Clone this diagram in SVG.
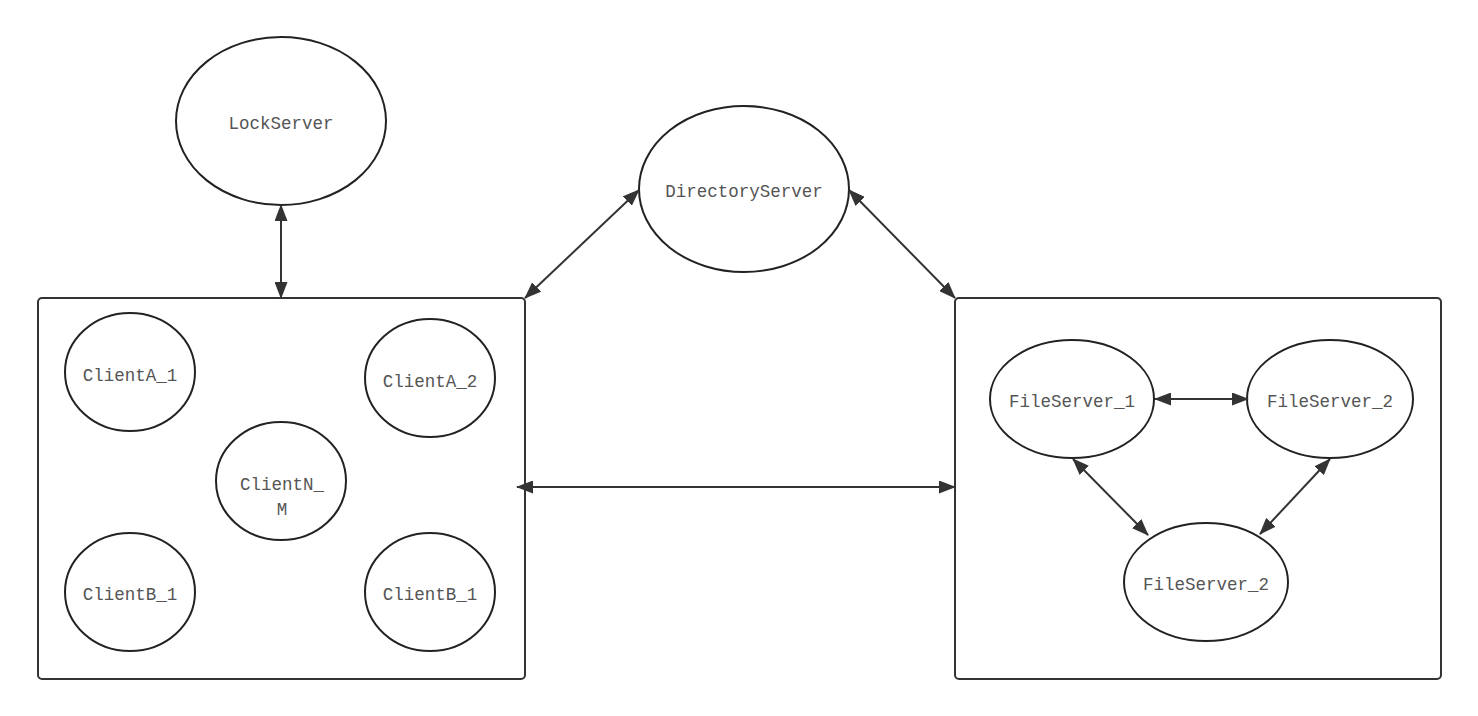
<svg xmlns="http://www.w3.org/2000/svg" width="1478" height="716" viewBox="0 0 1478 716">
<defs>
<style>
.n{fill:#fff;stroke:#222;stroke-width:2}
.box{fill:#fff;stroke:#333;stroke-width:2}
.t{font-family:"Liberation Mono","DejaVu Sans Mono",monospace;font-size:17.5px;fill:#555;text-anchor:middle;dominant-baseline:central}
.c{stroke:#333;stroke-width:2;fill:none;marker-start:url(#a);marker-end:url(#a)}
</style>
<marker id="a" viewBox="0 0 17 13" refX="16" refY="6.5" markerWidth="17" markerHeight="13" markerUnits="userSpaceOnUse" orient="auto-start-reverse">
<path d="M0,0 L17,6.5 L0,13 z" fill="#333"/>
</marker>
</defs>
<rect width="1478" height="716" fill="#fff"/>
<g id="clientGroup"><rect class="box" x="38" y="298" width="487" height="381" rx="4"/></g>
<g id="fileGroup"><rect class="box" x="955" y="298" width="486" height="381" rx="4"/></g>
<g id="LockServer"><ellipse class="n" cx="281" cy="121" rx="105" ry="84"/><text class="t" x="281" y="124">LockServer</text></g>
<g id="DirectoryServer"><ellipse class="n" cx="744" cy="189" rx="105" ry="83"/><text class="t" x="744" y="192">DirectoryServer</text></g>
<g id="ClientA_1"><ellipse class="n" cx="130" cy="372" rx="65" ry="59"/><text class="t" x="130" y="376">ClientA_1</text></g>
<g id="ClientA_2"><ellipse class="n" cx="430" cy="378" rx="65" ry="59"/><text class="t" x="430" y="382">ClientA_2</text></g>
<g id="ClientN_M"><ellipse class="n" cx="281" cy="481" rx="65" ry="59"/><text class="t" x="282" y="485">ClientN_</text><text class="t" x="282" y="510">M</text></g>
<g id="ClientB_1a"><ellipse class="n" cx="130" cy="592" rx="65" ry="59"/><text class="t" x="130" y="595">ClientB_1</text></g>
<g id="ClientB_1b"><ellipse class="n" cx="430" cy="592" rx="65" ry="59"/><text class="t" x="430" y="595">ClientB_1</text></g>
<g id="FileServer_1"><ellipse class="n" cx="1072" cy="399" rx="82" ry="59"/><text class="t" x="1072" y="402">FileServer_1</text></g>
<g id="FileServer_2a"><ellipse class="n" cx="1330" cy="399" rx="83" ry="59"/><text class="t" x="1330" y="402">FileServer_2</text></g>
<g id="FileServer_2b"><ellipse class="n" cx="1206" cy="582" rx="82" ry="59"/><text class="t" x="1206" y="585">FileServer_2</text></g>
<g id="connectors">
<line class="c" x1="281" y1="205" x2="281" y2="298"/>
<line class="c" x1="639" y1="190" x2="525" y2="298"/>
<line class="c" x1="849" y1="190" x2="955" y2="298"/>
<line class="c" x1="517" y1="487" x2="955" y2="487"/>
<line class="c" x1="1155" y1="399" x2="1248" y2="399"/>
<line class="c" x1="1073" y1="459" x2="1148" y2="535"/>
<line class="c" x1="1330" y1="459" x2="1260" y2="534"/>
</g>
</svg>
